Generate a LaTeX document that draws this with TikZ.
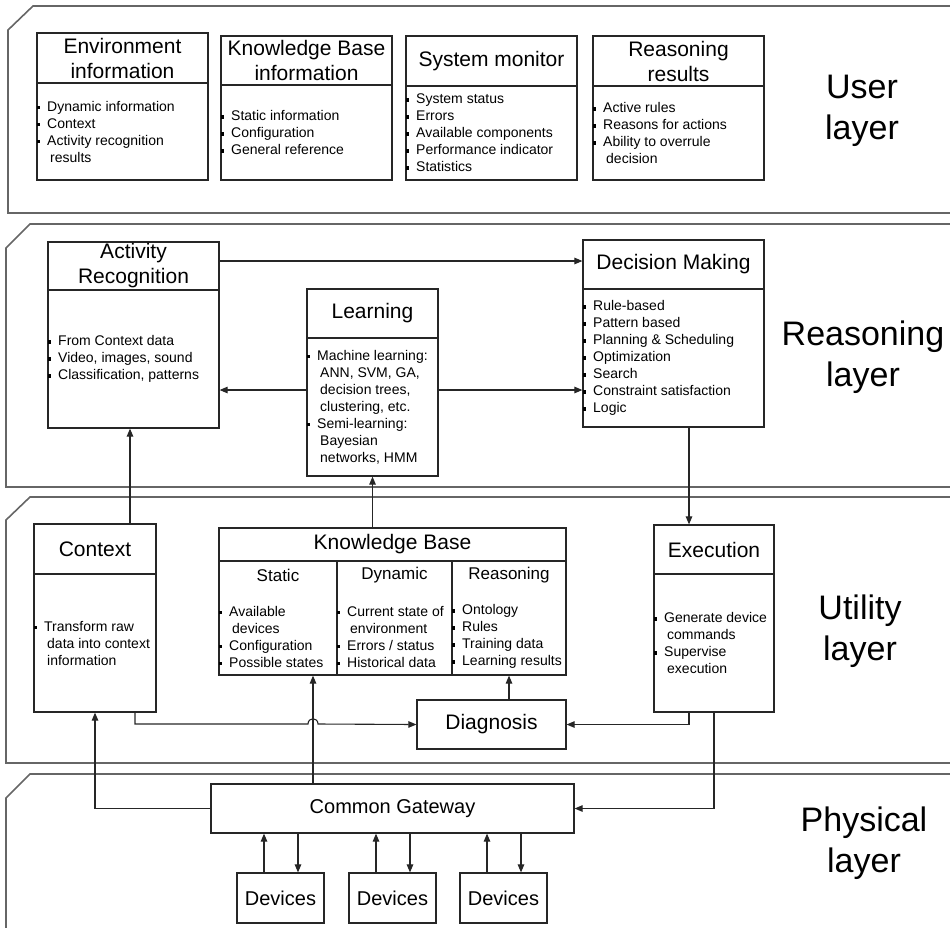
\documentclass[tikz,border=0pt]{standalone}
\usepackage{fontspec}
\setmainfont{Liberation Sans}
\usetikzlibrary{calc}
\usetikzlibrary{arrows.meta}

\newcommand{\bul}{\makebox[10pt][l]{\hspace*{-0.5pt}\raisebox{2pt}{\rule{3.2pt}{3.4pt}}}}
\newcommand{\wrapln}{\hspace*{13pt}}

\begin{document}
\begin{tikzpicture}[x=1pt, y=-1pt,
    >={Triangle[length=8pt, width=6.5pt]},
    panel/.style={draw=black!60, line width=1.6pt},
    box/.style={draw=black!85, line width=1.2pt, inner sep=0pt},
    head/.style={font=\fontsize{21}{25}\selectfont, align=center},
    body/.style={font=\fontsize{14}{17}\selectfont, align=left,
                 anchor=west, inner sep=0pt},
    colhead/.style={font=\fontsize{17}{20}\selectfont},
    layer/.style={font=\fontsize{34}{41}\selectfont, align=center},
    link/.style={draw=black!85, line width=1.1pt}]
  \useasboundingbox (0,0) rectangle (950,927);

  % layers
  \draw[panel] (960,6) -- (33,6) -- (8,30) -- (8,213) -- (960,213);
  \draw[panel] (960,224) -- (30,224) -- (6,248) -- (6,487) -- (960,487);
  \draw[panel] (960,497) -- (30,497) -- (6,520) -- (6,763) -- (960,763);
  \draw[panel] (960,774) -- (30,774) -- (6,798) -- (6,940);
  \node[layer] (user-l) at (862,111) {User\\layer};
  \node[layer] (reas-l) at (863,357) {Reasoning\\layer};
  \node[layer] (util-l) at (860,631) {Utility\\layer};
  \node[layer] (phys-l) at (864,843) {Physical\\layer};

  % boxes with title and list
  \foreach \nm/\xa/\xb/\ya/\yd/\yb/\ttl/\txt in {
    env/37/208/33/83/180/{Environment\\information}/{\bul Dynamic information\\\bul Context\\\bul Activity recognition\\\wrapln results},
    kbi/221/392/36/85/180/{Knowledge Base\\information}/{\bul Static information\\\bul Configuration\\\bul General reference},
    mon/406/577/36/86/180/{System monitor}/{\bul System status\\\bul Errors\\\bul Available components\\\bul Performance indicator\\\bul Statistics},
    res/593/764/36/86/180/{Reasoning\\results}/{\bul Active rules\\\bul Reasons for actions\\\bul Ability to overrule\\\wrapln decision},
    act/48/219/242/290/428/{Activity\\Recognition}/{\bul From Context data\\\bul Video, images, sound\\\bul Classification, patterns},
    learn/307/438/289/338/476/{Learning}/{\bul Machine learning:\\\wrapln ANN, SVM, GA,\\\wrapln decision trees,\\\wrapln clustering, etc.\\\bul Semi-learning:\\\wrapln Bayesian\\\wrapln networks, HMM},
    dec/583/764/240/289/427/{Decision Making}/{\bul Rule-based\\\bul Pattern based\\\bul Planning \& Scheduling\\\bul Optimization\\\bul Search\\\bul Constraint satisfaction\\\bul Logic},
    ctx/34/156/524/574/712/{Context}/{\bul Transform raw\\\wrapln data into context\\\wrapln information},
    exec/654/774/525/574/712/{Execution}/{\bul Generate device\\\wrapln commands\\\bul Supervise\\\wrapln execution}}{
    \node[box, minimum width=\xb-\xa, minimum height=\yb-\ya]
      (\nm) at ({(\xa+\xb)/2},{(\ya+\yb)/2}) {};
    \draw[box] (\xa,\yd) -- (\xb,\yd);
    \node[head] (\nm-t) at ({(\xa+\xb)/2},{(\ya+\yd)/2}) {\ttl};
    \node[body] (\nm-b) at (\xa,{(\yd+\yb)/2}) {\txt};
  }

  % knowledge base
  \node[box, minimum width=347, minimum height=147] (kb) at (392.5,601.5) {};
  \draw[box] (219,561) -- (566,561);
  \draw[box] (337,561) -- (337,675);
  \draw[box] (452,561) -- (452,675);
  \node[head] (kb-t) at (392.5,544.5) {Knowledge Base};
  \node[colhead] (kb-s) at (278,575) {Static};
  \node[colhead] (kb-d) at (394.5,575) {Dynamic};
  \node[colhead] (kb-r) at (509,575) {Reasoning};
  \node[body] (kb-sb) at (219,636.5)
    {\bul Available\\\wrapln devices\\\bul Configuration\\\bul Possible states};
  \node[body] (kb-db) at (337,636.5)
    {\bul Current state of\\\wrapln environment\\\bul Errors / status\\\bul Historical data};
  \node[body] (kb-rb) at (452,636.5)
    {\bul Ontology\\\bul Rules\\\bul Training data\\\bul Learning results};

  \node[box, head, minimum width=149, minimum height=49] (diag) at (491.5,724.5) {Diagnosis};
  \node[box, font=\fontsize{20}{24}\selectfont, minimum width=363, minimum height=49]
    (gw) at (392.5,808.5) {Common Gateway};
  \foreach \i/\x in {1/280.5, 2/392.5, 3/503.5}{
    \node[box, font=\fontsize{20}{24}\selectfont, minimum width=87, minimum height=50]
      (dev\i) at (\x,898) {Devices};
    \coordinate (up\i) at ($(dev\i.north)+(-16.5,0)$);
    \coordinate (dn\i) at ($(dev\i.north)+(17.5,0)$);
    \draw[link,->] (up\i) -- (up\i |- gw.south);
    \draw[link,->] (dn\i |- gw.south) -- (dn\i);
  }

  % connectors
  \draw[link,->] (act.east |- 0,261) -- (dec.west |- 0,261);
  \draw[link,->] (learn.west |- 0,390) -- (act.east |- 0,390);
  \draw[link,->] (learn.east |- 0,390) -- (dec.west |- 0,390);
  \draw[link,->] (dec.south -| 689,0) -- (exec.north -| 689,0);
  \draw[link,->] (ctx.north -| 130,0) -- (act.south -| 130,0);
  \draw[link,->] (kb.north -| learn.south) -- (learn.south);
  \draw[link,->] (gw.north -| 313,0) -- (kb.south -| 313,0);
  \draw[link,->] (diag.north -| kb-r) -- (kb.south -| kb-r);
  \draw[link,->] (ctx.south -| 135,0) -- (135,724) -- (308,724)
    .. controls (308,717) and (318,717) .. (318,724) -- (diag.west);
  \draw[link,->] (exec.south -| 689,0) |- (diag.east);
  \draw[link,->] (exec.south) |- (gw.east);
  \draw[link,->] (gw.west) -| (ctx.south);
\end{tikzpicture}
\end{document}
